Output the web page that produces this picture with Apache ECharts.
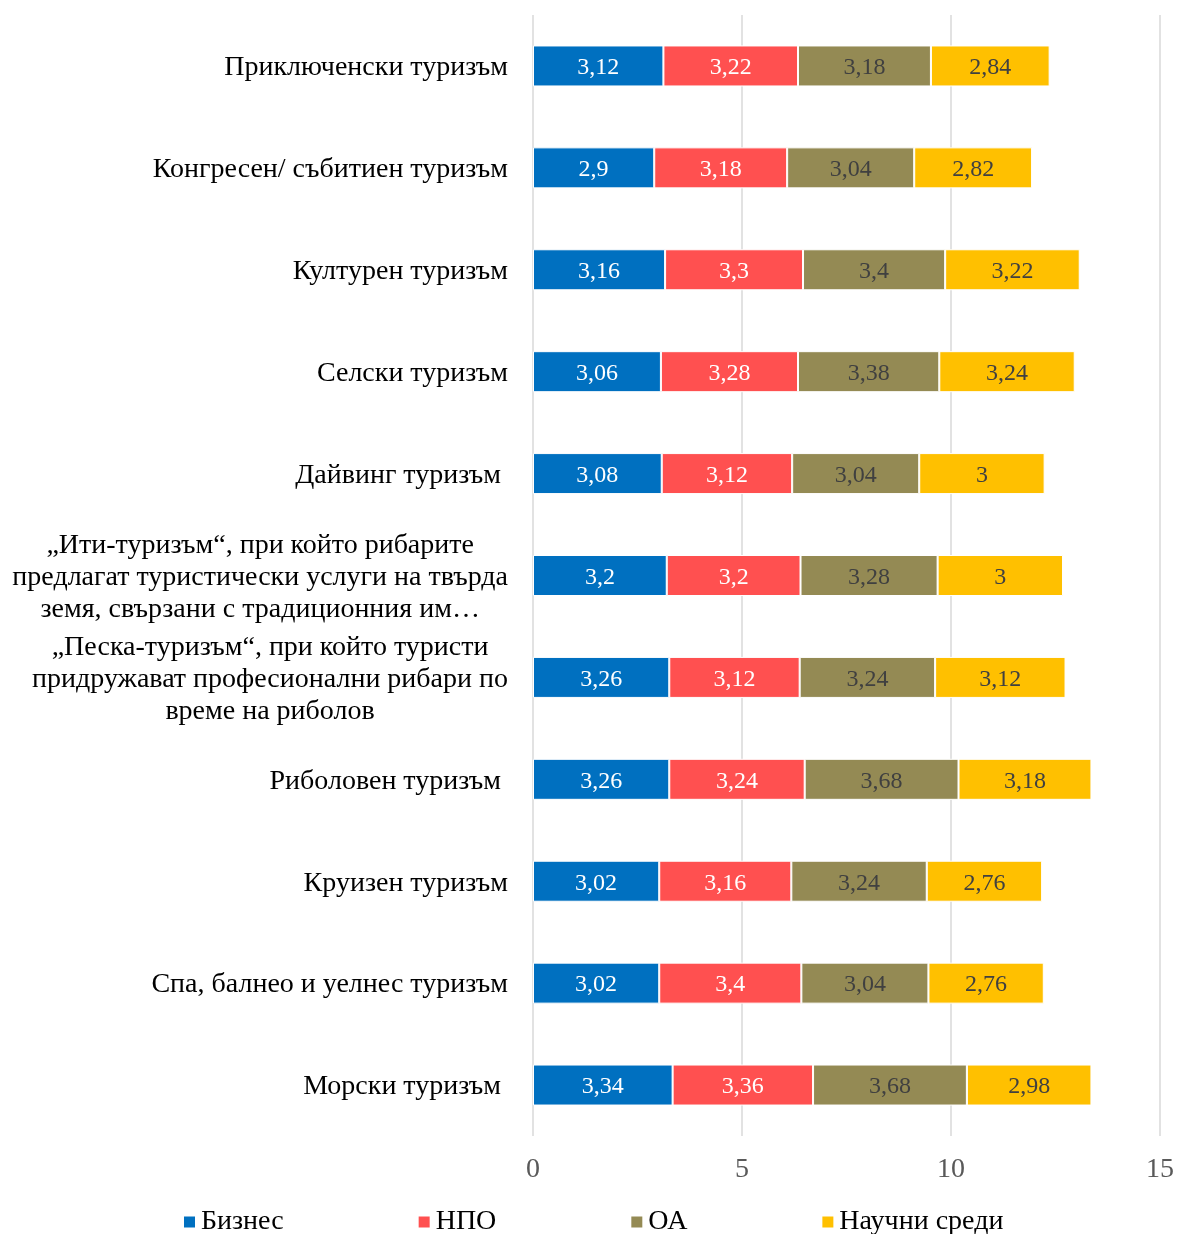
<!DOCTYPE html>
<html><head><meta charset="utf-8">
<script src="https://cdn.jsdelivr.net/npm/echarts@6/dist/echarts.min.js"></script>
<style>html,body{margin:0;padding:0;background:#fff}#c{width:1177px;height:1234px}</style>
</head><body><div id="c"></div>
<script>
const categories = [
  'Приключенски туризъм',
  'Конгресен/ събитиен туризъм',
  'Културен туризъм',
  'Селски туризъм',
  'Дайвинг туризъм ',
  '„Ити-туризъм“, при който рибарите\nпредлагат туристически услуги на твърда\nземя, свързани с традиционния им…',
  '„Песка-туризъм“, при който туристи\nпридружават професионални рибари по\nвреме на риболов',
  'Риболовен туризъм ',
  'Круизен туризъм',
  'Спа, балнео и уелнес туризъм',
  'Морски туризъм '
];
const seriesNames = ['Бизнес', 'НПО', 'ОА', 'Научни среди'];
const business = [3.12, 2.9, 3.16, 3.06, 3.08, 3.2, 3.26, 3.26, 3.02, 3.02, 3.34];
const npo      = [3.22, 3.18, 3.3, 3.28, 3.12, 3.2, 3.12, 3.24, 3.16, 3.4, 3.36];
const oa       = [3.18, 3.04, 3.4, 3.38, 3.04, 3.28, 3.24, 3.68, 3.24, 3.04, 3.68];
const science  = [2.84, 2.82, 3.22, 3.24, 3, 3, 3.12, 3.18, 2.76, 2.76, 2.98];
const xTicks = [0, 5, 10, 15];

const colors = ['#0070C0', '#FF5050', '#948A54', '#FFC000'];
const labelColors = ['#FFFFFF', '#FFFFFF', '#404040', '#404040'];
const values = [business, npo, oa, science];
const font = 'Liberation Serif';

const chart = echarts.init(document.getElementById('c'), null, {renderer: 'canvas'});
chart.setOption({
  animation: false,
  textStyle: {fontFamily: font},
  grid: {left: 533, right: 17, top: 15, bottom: 98, containLabel: false},
  legend: {
    left: 182, top: 1208, padding: 0, itemWidth: 13, itemHeight: 13, itemGap: 133,
    icon: 'rect',
    textStyle: {fontFamily: font, fontSize: 28, color: '#000'},
    data: seriesNames
  },
  xAxis: {
    type: 'value', min: xTicks[0], max: xTicks[xTicks.length - 1], interval: 5,
    axisLine: {show: false}, axisTick: {show: false},
    splitLine: {lineStyle: {color: '#D9D9D9', width: 1.5}},
    axisLabel: {fontFamily: font, fontSize: 28, color: '#595959', margin: 20,
      formatter: v => xTicks.includes(v) ? String(v) : ''}
  },
  yAxis: {
    type: 'category', inverse: true, data: categories,
    axisLine: {show: false}, axisTick: {show: false},
    axisLabel: {
      margin: 25, fontFamily: font, fontSize: 28, color: '#000', lineHeight: 32, padding: [4, 0, 0, 0],
      formatter: v => v.split('\n').map(l => '{c|' + l + '}').join('\n'),
      rich: {c: {align: 'center', fontFamily: font, fontSize: 28, color: '#000', lineHeight: 32}}
    }
  },
  series: seriesNames.map((n, i) => ({
    name: n, type: 'bar', stack: 'total', barWidth: 41,
    itemStyle: {color: colors[i], borderColor: '#FFFFFF', borderWidth: 1},
    label: {show: true, position: 'inside', fontFamily: font, fontSize: 24, color: labelColors[i],
      offset: [0, 2],
      formatter: p => String(p.value).replace('.', ',')},
    data: values[i]
  }))
});
</script></body></html>
